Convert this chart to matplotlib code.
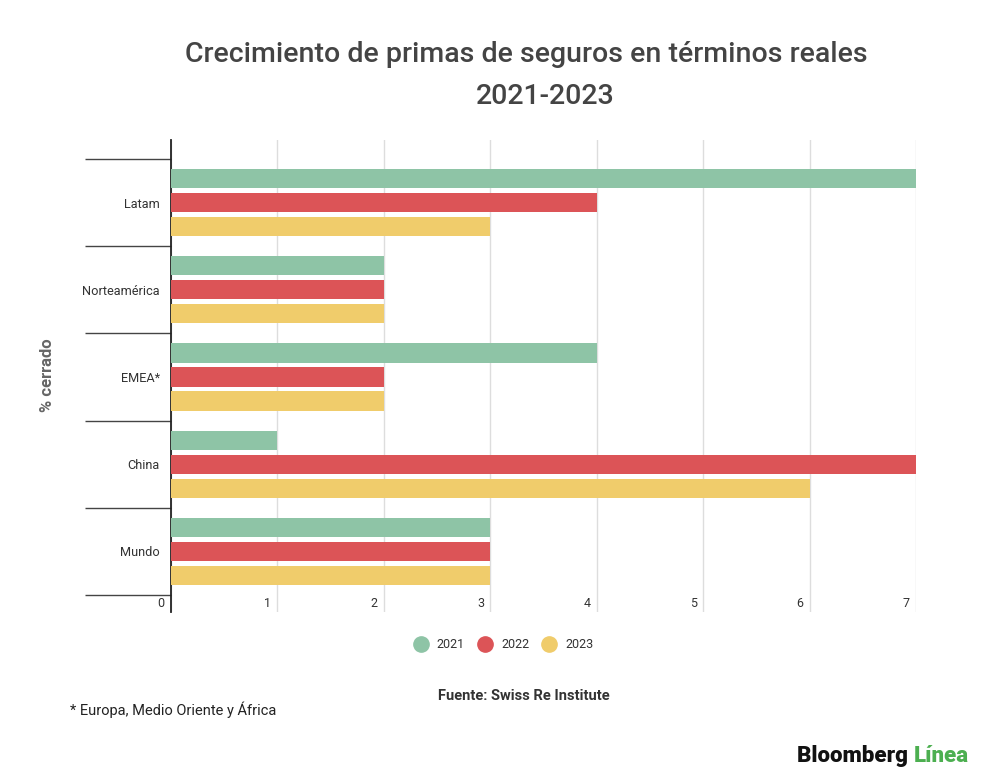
import matplotlib
matplotlib.use("Agg")
import matplotlib.pyplot as plt
import numpy as np
from matplotlib.lines import Line2D

plt.rcParams['font.family'] = ['Roboto', 'DejaVu Sans']

categories = ["Latam", "Norteamérica", "EMEA*", "China", "Mundo"]
series_names = ["2021", "2022", "2023"]
v2021 = [7, 2, 4, 1, 3]
v2022 = [4, 2, 2, 7, 3]
v2023 = [3, 2, 2, 6, 3]
xticks = [0, 1, 2, 3, 4, 5, 6, 7]
colors = ["#8ec4a6", "#dc5457", "#f0cc6b"]

W, H = 1000, 784
fig = plt.figure(figsize=(W/100, H/100), dpi=100)
ax = fig.add_axes([171/W, 1-612/H, (916-171)/W, (612-140)/H])

y = np.arange(len(categories))
off = 0.275
bh = 0.22
for i, (vals, c) in enumerate(zip([v2021, v2022, v2023], colors)):
    ax.barh(y + (i-1)*off, vals, height=bh, color=c, zorder=3)

ax.set_xlim(0, 7)
ax.set_ylim(4.5 + 0.195, -0.5 - 0.218)
ax.set_xticks(xticks)
ax.set_xticklabels([])
ax.tick_params(axis='x', length=0)
ax.grid(axis='x', color='#dddddd', linewidth=1, zorder=0)

for t in xticks:
    ax.annotate(str(t), xy=(t, 0), xycoords=('data', 'axes fraction'),
                xytext=(-4.5, 6), textcoords='offset points', ha='right', va='center',
                fontsize=9, color='#333333')

ax.set_yticks(y)
ax.set_yticklabels(categories, fontsize=9.2, color='#333333')
ax.tick_params(axis='y', which='major', length=0, pad=8)
ax.set_yticks(np.arange(-0.5, len(categories)), minor=True)
ax.tick_params(axis='y', which='minor', length=62, width=1, color='#444444')

for s in ['top', 'right', 'bottom']:
    ax.spines[s].set_visible(False)
ax.spines['left'].set_color('#222222')
ax.spines['left'].set_linewidth(1.3)

fig.text(48/W, 1-375/H, "% cerrado", rotation=90, ha='center', va='center',
         fontsize=12, fontweight='bold', color='#666666')

fig.text(526/W, 1-55/H, "Crecimiento de primas de seguros en términos reales",
         ha='center', va='center', fontsize=20.5, fontweight='medium', color='#444444')
fig.text(545/W, 1-97/H, "2021-2023", ha='center', va='center', fontsize=20.5,
         fontweight='medium', color='#444444')

handles = [Line2D([0], [0], marker='o', linestyle='', markersize=11,
                  markerfacecolor=c, markeredgecolor=c) for c in colors]
fig.legend(handles, series_names, loc='center', bbox_to_anchor=(501/W, 1-645/H),
           ncol=3, frameon=False, fontsize=9, handletextpad=0.3, columnspacing=0.6,
           labelcolor='#333333')

fig.text(524/W, 1-696/H, "Fuente: Swiss Re Institute", ha='center', va='center',
         fontsize=10.5, fontweight='bold', color='#333333')
fig.text(70/W, 1-710/H, "* Europa, Medio Oriente y África", ha='left', va='center',
         fontsize=10.5, color='#222222')

t1 = fig.text(797/W, 1-756/H, "Bloomberg ", ha='left', va='center',
              fontsize=16, fontweight='black', color='#111111')
fig.canvas.draw()
bb = t1.get_window_extent()
fig.text(bb.x1/W, 1-756/H, "Línea", ha='left', va='center',
         fontsize=16, fontweight='black', color='#4caf50')

fig.savefig("out.png", dpi=100)
